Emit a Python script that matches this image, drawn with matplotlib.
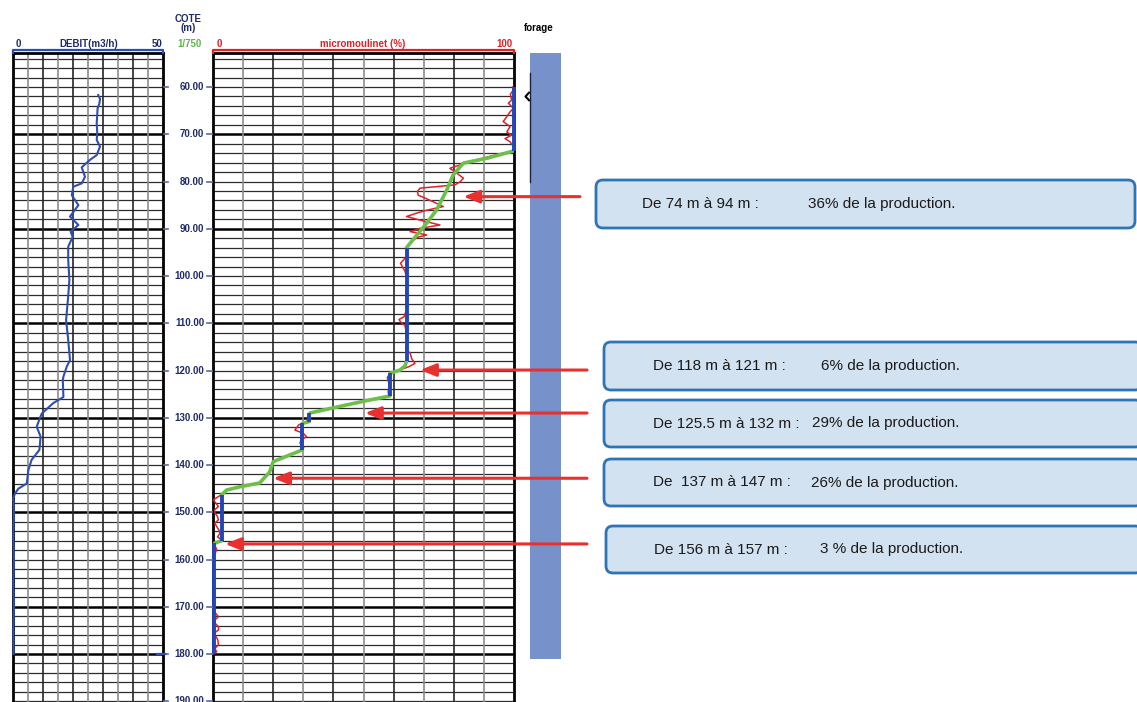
import matplotlib
matplotlib.use("Agg")
import matplotlib.pyplot as plt
import matplotlib.transforms as mtransforms
from matplotlib.patches import FancyBboxPatch
import numpy as np

W, H = 1137, 702
nan = np.nan

# depth window shared by all tracks (m)
DEPTH_TOP, DEPTH_BOT = 52.8, 191.0

# ── flowmeter log: DEBIT (m3/h) ──────────────────────────────────────────────
debit_depth = [61.7, 62.5, 63.5, 64.5, 65.6, 67.7, 69.8, 71.2, 72.6, 74.4, 75.4,
               77.0, 79.0, 80.4, 81.1, 82.9, 85.0, 87.4, 89.2, 90.6, 91.7, 93.8,
               96.6, 100.8, 104.3, 107.9, 109.3, 113.5, 117.8, 119.2, 121.3,
               122.0, 125.6, 126.9, 129.1, 130.0, 131.9, 134.0, 136.8, 138.9,
               141.1, 143.9, 145.0, 146.0, 147.0, 150.0, 155.0, 160.0, 165.0,
               170.0, 175.0, 180.0]
debit_val = [28.4, 29.0, 28.8, 28.2, 28.1, 27.9, 28.1, 27.9, 29.0, 27.9, 25.7,
             22.9, 24.0, 22.9, 20.1, 19.6, 21.8, 19.0, 21.8, 19.2, 19.9, 18.4,
             18.4, 18.8, 18.4, 17.9, 17.7, 18.4, 19.0, 17.9, 16.8,
             16.6, 16.8, 13.4, 9.6, 9.0, 7.9, 9.2, 8.8, 6.2,
             5.1, 4.6, 1.8, 0.7, 0.1, 0.3, 0.1, 0.3, 0.1,
             0.3, 0.1, 0.2]

# ── micromoulinet (%) continuous trace ──────────────────────────────────────
spin_depth = [60.0, 60.6, 61.5, 62.8, 63.4, 64.5, 65.4, 66.3, 67.3, 68.4, 69.5,
              70.2, 70.9, 71.6, 72.6, 73.5, 74.5, 75.5, 76.4, 76.8, 77.2, 78.0,
              79.3, 80.1, 80.7, 81.1, 81.4, 82.1, 82.9, 83.6, 84.3, 85.3, 86.0,
              86.7, 87.4, 88.2, 89.2, 89.9, 90.6, 91.3, 91.8, 92.4, 93.8, 95.5,
              97.3, 99.0, 101.0, 104.0, 106.5, 108.6, 109.2, 109.7, 110.5, 112.0,
              114.0, 115.5, 116.3, 117.5, 118.5, 119.2, 119.9, 120.6, 121.5,
              123.0, 124.5, 125.4, 126.5, 127.5, 128.3, 129.0, 129.8, 130.8,
              131.5, 132.6, 133.3, 134.0, 134.7, 135.4, 136.2, 136.8, 138.2,
              139.3, 141.5, 143.8, 144.6, 145.3, 146.3, 147.4, 148.1, 148.8,
              149.5, 150.2, 150.9, 151.6, 152.3, 153.0, 153.8, 154.5, 155.2,
              155.9, 156.6, 157.9, 159.2, 160.8, 163.0, 166.0, 169.0, 171.0,
              172.1, 172.8, 173.5, 174.2, 174.9, 175.5, 176.0, 177.0, 178.1,
              178.8, 179.5, 180.0]
spin_val = [99.5, 99.8, 98.8, 99.2, 98.1, 99.8, 98.5, 97.6, 96.4, 98.7, 97.6,
            99.2, 97.0, 98.7, 99.8, 100.0, 93.0, 87.0, 82.5, 80.5, 78.7, 80.5,
            83.2, 82.0, 80.4, 74.0, 68.8, 67.9, 68.2, 70.8, 73.2, 76.5, 71.5,
            67.6, 64.3, 69.0, 75.4, 68.8, 65.5, 71.0, 68.0, 66.5, 64.3, 64.8,
            62.3, 63.8, 64.6, 64.0, 64.6, 63.5, 61.8, 62.3, 63.8, 64.2,
            64.5, 64.0, 65.5, 66.0, 67.1, 65.0, 62.0, 58.8, 57.9,
            58.6, 58.2, 58.4, 51.0, 43.0, 37.0, 32.2, 31.5, 31.2,
            28.5, 27.2, 30.0, 31.1, 29.2, 28.9, 30.2, 29.5, 24.2,
            20.2, 18.6, 15.3, 9.2, 4.4, 2.7, 0.1, 1.0, 1.8,
            0.5, 0.7, 1.5, 1.8, 0.6, 1.2, 2.0, 2.3, 1.5,
            2.9, 0.4, 1.2, 0.4, 0.5, 0.2, 0.3, 0.2, 0.4,
            1.8, 0.6, 0.7, 1.8, 1.8, 0.6, 0.7, 1.6, 1.8,
            0.6, 1.2, 0.3]

# stationary readings (blue bars)
stat_top = [60.0, 94.0, 120.6, 128.9, 131.2, 146.3, 156.6]
stat_bot = [73.5, 118.0, 125.4, 130.8, 136.8, 156.0, 180.0]
stat_val = [100.0, 64.3, 58.8, 32.0, 29.7, 2.9, 0.3]

# interpreted profile between stations (green)
profile_depth = [73.5, 75.0, 76.1, 78.6, 82.0, 86.0, 88.8, 91.5, 94.0, nan,
                 118.0, 119.0, 119.9, 120.6, nan,
                 125.4, 126.3, 127.2, 128.1, 129.0, nan,
                 130.8, 131.2, nan,
                 136.8, 138.2, 139.3, 141.5, 143.8, 144.6, 145.3, 146.3, nan,
                 156.0, 156.6]
profile_val = [100.0, 91.5, 83.2, 79.8, 77.5, 74.3, 71.0, 67.5, 64.3, nan,
               64.3, 63.8, 62.1, 58.8, nan,
               58.8, 51.5, 45.0, 38.5, 32.2, nan,
               32.0, 29.7, nan,
               29.7, 24.2, 20.0, 18.8, 15.5, 9.0, 4.5, 2.9, nan,
               2.9, 0.3]

depth_ticks = list(range(60, 191, 10))
grid_minor = np.arange(54, 191, 2)
grid_major = [70, 90, 110, 130, 150, 170, 180]

# producing zones
zone_label = ["De 74 m à 94 m :", "De 118 m à 121 m :", "De 125.5 m à 132 m :",
              "De  137 m à 147 m :", "De 156 m à 157 m :"]
zone_share = ["36% de la production.", "6% de la production.",
              "29% de la production.", "26% de la production.",
              "3 % de la production."]
zone_arrow_depth = [83.2, 119.9, 129.0, 142.8, 156.7]
zone_arrow_val = [83.2, 68.8, 50.5, 20.0, 4.0]

forage_top, forage_bot = 52.8, 181.0

# ── layout (pixels) ─────────────────────────────────────────────────────────
box_x0 = [596, 604, 604, 604, 606]
box_x1 = [1135, 1142, 1142, 1142, 1142]
box_y0 = [180, 342, 400, 459, 526]
box_y1 = [228, 390, 447, 506, 573]
text_x0 = [642, 653, 653, 653, 654]
text_x1 = [808, 821, 812, 811, 820]
arrow_x0 = [580, 587, 587, 587, 587]

LOGFONT = ["Liberation Sans", "DejaVu Sans"]
NAVY = "#1f2a68"
RED = "#dc2328"
BLUE = "#2346b5"


def px_axes(fig, x0, y0, x1, y1):
    return fig.add_axes([x0 / W, (H - y1) / H, (x1 - x0) / W, (y1 - y0) / H])


def setup_track(ax, xmax, ndiv):
    ax.set_xlim(0, xmax)
    ax.set_ylim(DEPTH_BOT, DEPTH_TOP)
    ax.set_xticks([])
    ax.set_yticks([])
    for s in ax.spines.values():
        s.set_linewidth(2)
        s.set_color("black")
    for d in grid_minor:
        major = d in grid_major
        ax.axhline(d, color="black" if major else "#2c2c2c",
                   lw=1.8 if major else 0.9, zorder=1)
    for i in range(1, ndiv):
        ax.axvline(xmax * i / ndiv, color="#262626" if i % 2 == 0 else "#8c8c8c",
                   lw=1.2, zorder=1)


fig = plt.figure(figsize=(W / 100, H / 100), dpi=100)
fig.patch.set_facecolor("white")

# ── DEBIT track ─────────────────────────────────────────────────────────────
ax_q = px_axes(fig, 13, 53, 163, 706)
setup_track(ax_q, 50, 10)
ax_q.plot(debit_val, debit_depth, color="#2f4fb0", lw=1.5, zorder=3, clip_on=False)

# ── micromoulinet track ────────────────────────────────────────────────────
ax_m = px_axes(fig, 213, 53, 514, 706)
setup_track(ax_m, 100, 10)
ax_m.plot(spin_val, spin_depth, color=RED, lw=1.1, zorder=3)
ax_m.plot(profile_val, profile_depth, color="#6cc04a", lw=2.6, zorder=4,
          solid_capstyle="round")
ax_m.vlines(stat_val, stat_top, stat_bot, color=BLUE, lw=2.8, zorder=5,
            clip_on=False)

# ── depth column ───────────────────────────────────────────────────────────
ax_d = px_axes(fig, 163, 53, 213, 706)
ax_d.set_xlim(0, 50)
ax_d.set_ylim(DEPTH_BOT, DEPTH_TOP)
ax_d.axis("off")
for d in depth_ticks:
    ax_d.plot([0, 5], [d, d], color="#5b6b9a", lw=1.2)
    ax_d.plot([44, 50], [d, d], color="#5b6b9a", lw=1.2)
    ax_d.text(41, d, f"{d:.2f}", ha="right", va="center", fontsize=7,
              family=LOGFONT, weight="bold", color=NAVY)
# end of the flowmeter run
ax_d.plot([-6, 2], [180, 180], color="#2f4fb0", lw=1.6, clip_on=False)

# ── forage column ──────────────────────────────────────────────────────────
ax_f = px_axes(fig, 520, 53, 570, 706)
ax_f.set_xlim(520, 570)
ax_f.set_ylim(DEPTH_BOT, DEPTH_TOP)
ax_f.axis("off")
ax_f.fill_betweenx([forage_top, forage_bot], 530, 561, color="#7791cb", lw=0)
ax_f.plot([530, 530], [57.0, 80.0], color="#1b2340", lw=1.0)
ax_f.plot([529, 525.5, 529], [61.2, 62.0, 62.8], color="black", lw=1.5)

# ── overlay: headers, zone boxes, arrows ───────────────────────────────────
ov = fig.add_axes([0, 0, 1, 1])
ov.set_xlim(0, W)
ov.set_ylim(H, 0)
ov.axis("off")
ov.patch.set_alpha(0)

# header brackets
ov.plot([13, 13, 163, 163], [53, 49.5, 49.5, 53], color="#2b4db0", lw=1.6)
ov.plot([213, 213, 514, 514], [53, 49.5, 49.5, 53], color=RED, lw=1.6)
hdr = dict(va="baseline", fontsize=7, family=LOGFONT, weight="bold")
ov.text(18, 47, "0", ha="center", color=NAVY, **hdr)
ov.text(89, 47, "DEBIT(m3/h)", ha="center", color=NAVY, **hdr)
ov.text(157, 47, "50", ha="center", color=NAVY, **hdr)
ov.text(219, 47, "0", ha="center", color=RED, **hdr)
ov.text(363, 47, "micromoulinet (%)", ha="center", color=RED, **hdr)
ov.text(504, 47, "100", ha="center", color=RED, **hdr)
ov.text(188, 19, "COTE", ha="center", va="center", fontsize=7,
        family=LOGFONT, weight="bold", color=NAVY)
ov.text(188, 28, "(m)", ha="center", va="center", fontsize=7,
        family=LOGFONT, weight="bold", color=NAVY)
ov.text(190, 47, "1/750", ha="center", color="#5cb84a", **hdr)
ov.text(539, 31, "forage", ha="center", color="black", **hdr)

# zone boxes
for i in range(len(zone_label)):
    box = FancyBboxPatch((box_x0[i], box_y0[i]), box_x1[i] - box_x0[i],
                         box_y1[i] - box_y0[i],
                         boxstyle="round,pad=0,rounding_size=7",
                         fc="#d3e2f0", ec="#2f74b5", lw=2.0)
    ov.add_patch(box)
    yc = (box_y0[i] + box_y1[i]) / 2
    ov.text(text_x0[i], yc, zone_label[i], ha="left", va="center",
            fontsize=11, family="Liberation Sans", color="#1a1a1a")
    ov.text(text_x1[i], yc, zone_share[i], ha="left", va="center",
            fontsize=11, family="Liberation Sans", color="#1a1a1a")

# arrows from each box to its interval on the micromoulinet track
start_tr = mtransforms.blended_transform_factory(ov.transData, ax_m.transData)
for i in range(len(zone_label)):
    ov.annotate("", xy=(zone_arrow_val[i], zone_arrow_depth[i]),
                xycoords=ax_m.transData,
                xytext=(arrow_x0[i], zone_arrow_depth[i]), textcoords=start_tr,
                arrowprops=dict(arrowstyle="-|>,head_length=0.95,head_width=0.38",
                                color="#e8312f", lw=2.2, shrinkA=0, shrinkB=0))

fig.savefig("out.png", dpi=100)
